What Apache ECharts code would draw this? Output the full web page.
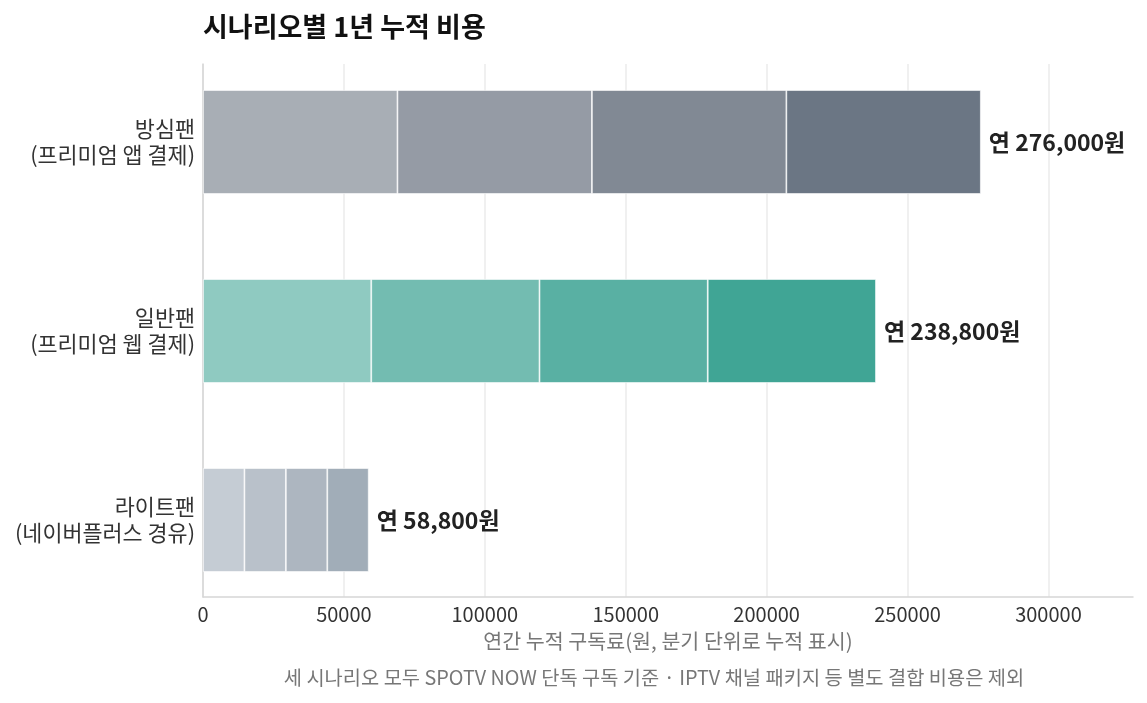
<!DOCTYPE html>
<html>
<head>
<meta charset="utf-8">
<script src="https://cdn.jsdelivr.net/npm/echarts@6/dist/echarts.min.js"></script>
<style>
  html, body { margin: 0; padding: 0; background: #fff; }
  #chart { width: 1147px; height: 703px; }
</style>
</head>
<body>
<div id="chart"></div>
<script>
const FONT = "'Noto Sans CJK KR', 'Noto Sans', sans-serif";

// scenarios, top to bottom
const scenarios = ["방심팬\n(프리미엄 앱 결제)", "일반팬\n(프리미엄 웹 결제)", "라이트팬\n(네이버플러스 경유)"];
const quarters = ["1분기", "2분기", "3분기", "4분기"];
// quarterly cost per scenario (원)
const q1 = [69000, 59700, 14700];
const q2 = [69000, 59700, 14700];
const q3 = [69000, 59700, 14700];
const q4 = [69000, 59700, 14700];
const totalLabels = ["연 276,000원", "연 238,800원", "연 58,800원"];
const xTicks = [0, 50000, 100000, 150000, 200000, 250000, 300000];

// shades per scenario, one per quarter
const palette = [
  ["#a8aeb5", "#959ba5", "#818994", "#6b7684"],
  ["#8fcac1", "#73bcb1", "#59b0a3", "#40a595"],
  ["#c5ccd4", "#b9c1ca", "#adb6c0", "#a1adb8"],
];

const quarterValues = [q1, q2, q3, q4];

const chart = echarts.init(document.getElementById("chart"));

const series = quarters.map((name, qi) => ({
  name,
  type: "bar",
  stack: "total",
  xAxisIndex: 0,
  yAxisIndex: 0,
  barWidth: 104,
  data: quarterValues[qi].map((value, si) => ({
    value,
    itemStyle: { color: palette[si][qi] },
  })),
  itemStyle: { borderColor: "rgba(255,255,255,0.8)", borderWidth: 0.8 },
  label: qi === 3 ? {
    show: true,
    position: "right",
    distance: 8,
    formatter: (p) => totalLabels[p.dataIndex],
    fontFamily: FONT,
    fontSize: 23,
    fontWeight: "bold",
    color: "#222",
  } : { show: false },
  emphasis: { disabled: true },
}));

chart.setOption({
  animation: false,
  backgroundColor: "#fff",
  title: {
    text: "시나리오별 1년 누적 비용",
    left: 198,
    top: 8,
    textStyle: { fontFamily: FONT, fontSize: 27, fontWeight: "bold", color: "#111" },
  },
  grid: [
    { left: 203, right: 14, top: 47.5, bottom: 88.5 },
    { left: 203, right: 14, top: 64, bottom: 106 },
  ],
  xAxis: [
    { gridIndex: 0, type: "value", min: 0, max: 330000, show: false },
    {
      gridIndex: 1,
      type: "value",
      min: 0,
      max: 330000,
      interval: 50000,
      axisLine: { show: true, lineStyle: { color: "#d6d6d6", width: 1.5 } },
      axisTick: { show: false },
      axisLabel: {
        margin: 7,
        fontFamily: FONT,
        fontSize: 20,
        color: "#333",
        showMaxLabel: false,
        formatter: (v) => (xTicks.includes(v) ? String(v) : ""),
      },
      splitLine: { show: true, showMaxLine: false, lineStyle: { color: "#ebebeb", width: 1.5 } },
      name: "연간 누적 구독료(원, 분기 단위로 누적 표시)",
      nameLocation: "middle",
      nameGap: 34,
      nameTextStyle: { fontFamily: FONT, fontSize: 20.6, color: "#777", verticalAlign: "top" },
    },
  ],
  yAxis: [
    {
      gridIndex: 0,
      type: "category",
      inverse: true,
      data: scenarios,
      axisLine: { show: false },
      axisTick: { show: false },
      axisLabel: {
        margin: 8,
        fontFamily: FONT,
        fontSize: 21.8,
        lineHeight: 26,
        color: "#333",
        align: "right",
      },
    },
    {
      gridIndex: 1,
      type: "value",
      min: 0,
      max: 1,
      axisLine: { show: true, lineStyle: { color: "#d6d6d6", width: 1.5 } },
      axisTick: { show: false },
      axisLabel: { show: false },
      splitLine: { show: false },
    },
  ],
  graphic: [
    {
      type: "text",
      x: 654,
      y: 677,
      style: {
        text: "세 시나리오 모두 SPOTV NOW 단독 구독 기준 · IPTV 채널 패키지 등 별도 결합 비용은 제외",
        fontFamily: FONT,
        fontSize: 19.8,
        fill: "#777",
        align: "center",
        verticalAlign: "middle",
      },
    },
  ],
  series,
});
</script>
</body>
</html>
